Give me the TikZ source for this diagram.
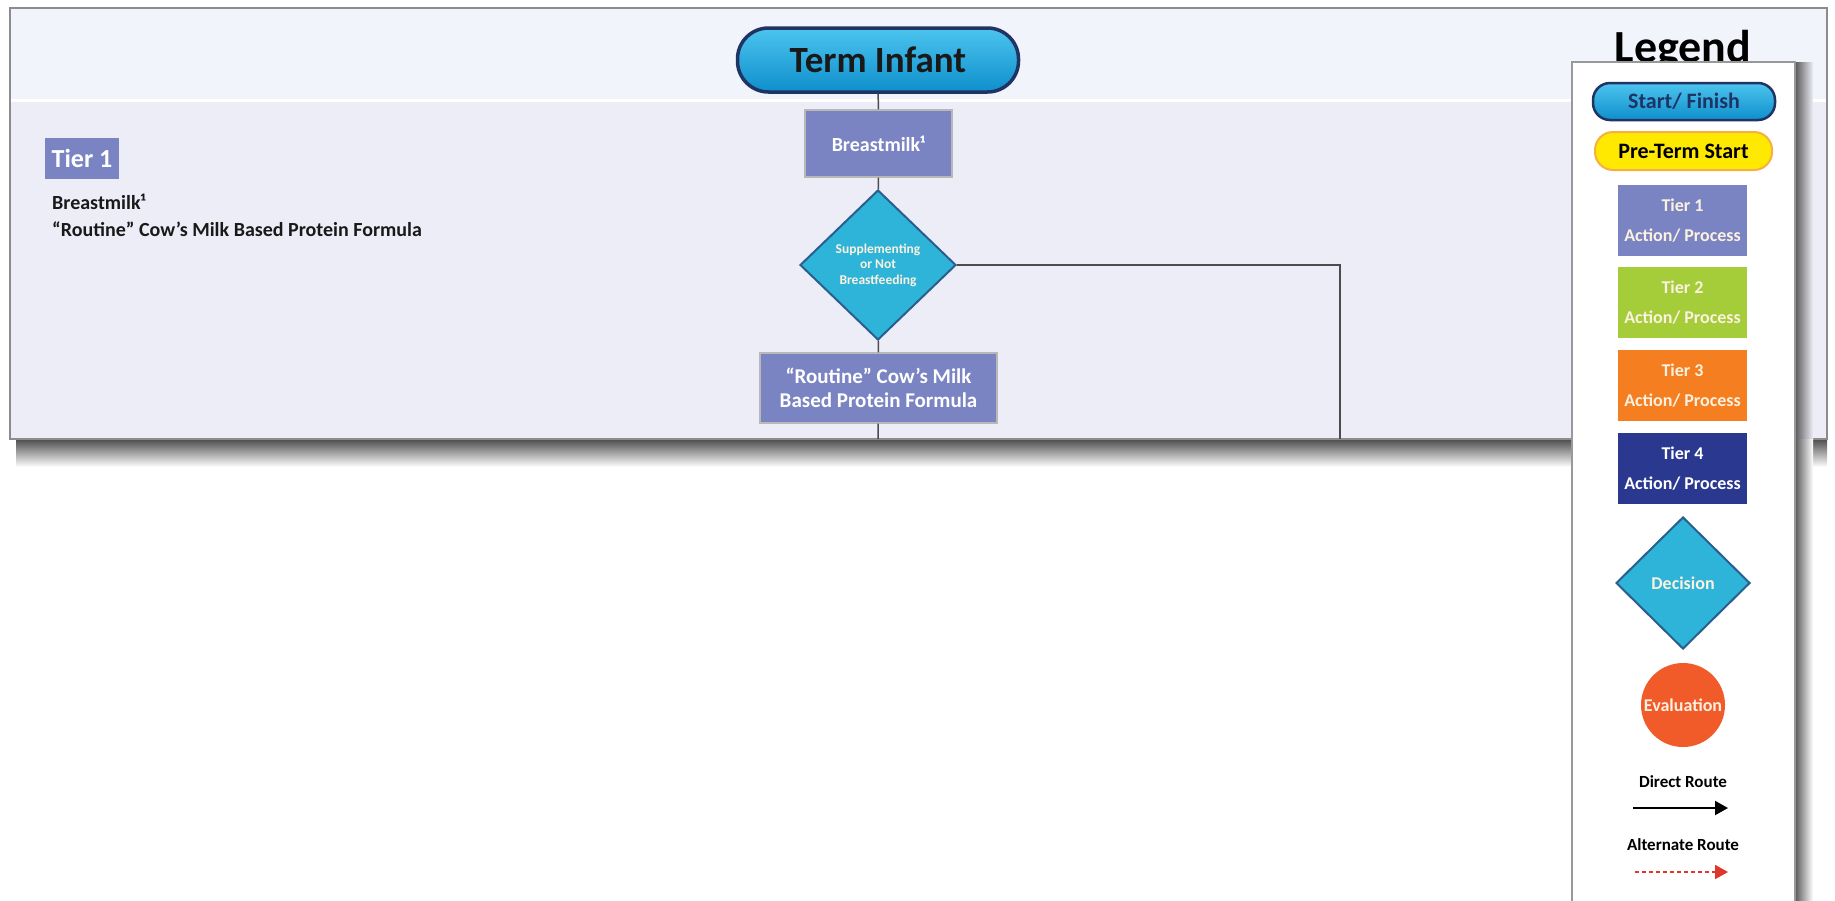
\documentclass[tikz,border=0pt]{standalone}
\usepackage{fontspec}
\setmainfont{Carlito}
\usetikzlibrary{shapes.geometric,arrows.meta}
\definecolor{tierA}{HTML}{7B84C3}
\definecolor{tierB}{HTML}{A5CD39}
\definecolor{tierC}{HTML}{F47E20}
\definecolor{tierD}{HTML}{2B3890}
\definecolor{decfill}{HTML}{2EB4D8}
\definecolor{decdraw}{HTML}{2A5E8E}
\definecolor{evalfill}{HTML}{F15A29}
\definecolor{pillnavy}{HTML}{1F3463}
\definecolor{pilltop}{HTML}{4CC4EE}
\definecolor{pillbot}{HTML}{0E8FCC}
\definecolor{yelfill}{HTML}{FFE900}
\definecolor{yeldraw}{HTML}{F5B041}
\definecolor{panelbody}{HTML}{ECEDF6}
\definecolor{panelhead}{HTML}{F1F4FA}
\definecolor{cream}{HTML}{FCF1E0}
\definecolor{altred}{HTML}{E0352B}
\begin{document}
\begin{tikzpicture}[x=1pt,y=-1pt,
  conn/.style={draw=black!70, line width=1.5pt},
  procbox/.style={rectangle, fill=tierA, draw=black!28, line width=1.2pt, text=white, align=center, inner sep=0pt},
  pill/.style={rectangle, rounded corners=#1, draw=pillnavy, top color=pilltop, bottom color=pillbot, inner sep=0pt, align=center},
  legtier/.style={rectangle, minimum width=129pt, minimum height=71pt, inner sep=0pt, align=center, font=\bfseries\fontsize{18}{30}\selectfont},
  legtxt/.style={font=\bfseries\fontsize{17}{20}\selectfont, text=black, inner sep=0pt},
]
\useasboundingbox (0,0) rectangle (1835,900);
% panel
\fill[panelbody] (10,8) rectangle (1827,439);
\fill[panelhead] (10,8) rectangle (1827,100);
\draw[white, line width=3pt] (10,100) -- (1827,100);
\shade[top color=black!70, bottom color=white] (16,439) rectangle (1827,467);
\draw[black!45, line width=1.5pt] (10,8) rectangle (1827,439);

% main flow
\node[pill=31pt, line width=3.5pt, minimum width=281pt, minimum height=64pt,
      font=\bfseries\fontsize{37}{40}\selectfont, text=black!90] (term) at (878,60) {Term Infant};
\node[procbox, minimum width=147pt, minimum height=67pt, font=\bfseries\fontsize{20}{24}\selectfont] (bm) at (878.5,143.5) {Breastmilk¹};
\node[diamond, fill=decfill, draw=decdraw, line width=2pt, minimum width=156pt, minimum height=150pt, inner sep=0pt,
      align=center, text=cream, font=\bfseries\fontsize{13.5}{15.5}\selectfont] (dec) at (878,265) {Supplementing\\or Not\\Breastfeeding};
\node[procbox, minimum width=237pt, minimum height=70pt, font=\bfseries\fontsize{21}{24}\selectfont] (rt) at (878.5,388) {“Routine” Cow’s Milk\\Based Protein Formula};
\coordinate (e1) at (878,439);
\coordinate (c1) at (1340,265);
\coordinate (e2) at (1340,439);
\draw[conn] (term) -- (bm);
\draw[conn] (bm) -- (dec);
\draw[conn] (dec) -- (rt);
\draw[conn] (rt) -- (e1);
\draw[conn] (dec.east) -- (c1) -- (e2);

% tier 1 list
\node[rectangle, fill=tierA, text=white, minimum width=74pt, minimum height=41pt, inner sep=0pt,
      font=\bfseries\fontsize{26}{28}\selectfont] (tierlab) at (82,158.5) {Tier 1};
\node[anchor=base west, inner sep=0pt, text=black!90, font=\bfseries\fontsize{20}{24}\selectfont] (l1) at (52,209) {Breastmilk¹};
\node[anchor=base west, inner sep=0pt, text=black!90, font=\bfseries\fontsize{20}{24}\selectfont] (l2) at (52,236) {“Routine” Cow’s Milk Based Protein Formula};

% legend
\node[anchor=base, inner sep=0pt, text=black, font=\bfseries\fontsize{46}{50}\selectfont] (legtitle) at (1683,62) {Legend};
\shade[left color=black!65, right color=panelbody] (1795,62) rectangle (1813,439);
\shade[left color=black!65, right color=white] (1795,439) rectangle (1813,905);
\draw[fill=white, draw=black!40, line width=1.5pt] (1572,62) rectangle (1795,905);

\node[pill=17pt, line width=2.5pt, minimum width=182pt, minimum height=37pt,
      font=\bfseries\fontsize{22}{24}\selectfont, text=pillnavy] (lstart) at (1684,101.5) {Start/ Finish};
\node[rectangle, rounded corners=18pt, fill=yelfill, draw=yeldraw, line width=2pt, minimum width=177pt, minimum height=38pt,
      inner sep=0pt, font=\bfseries\fontsize{22}{24}\selectfont, text=black] (lpre) at (1683.5,151) {Pre-Term Start};
\node[legtier, fill=tierA, text=cream] (lt1) at (1682.5,220.5) {Tier 1\\Action/ Process};
\node[legtier, fill=tierB, text=cream] (lt2) at (1682.5,302.5) {Tier 2\\Action/ Process};
\node[legtier, fill=tierC, text=cream] (lt3) at (1682.5,385.5) {Tier 3\\Action/ Process};
\node[legtier, fill=tierD, text=white] (lt4) at (1682.5,468.5) {Tier 4\\Action/ Process};
\node[diamond, fill=decfill, draw=decdraw, line width=2pt, minimum width=134pt, minimum height=132pt, inner sep=0pt,
      text=cream, font=\bfseries\fontsize{18}{20}\selectfont] (ldec) at (1683,583) {Decision};
\node[circle, fill=evalfill, minimum size=84pt, inner sep=0pt, text=cream,
      font=\bfseries\fontsize{18}{20}\selectfont] (leval) at (1683,705) {Evaluation};
\node[legtxt] (ldir) at (1683,782) {Direct Route};
\coordinate (da) at (1633,808);
\coordinate (db) at (1728,808);
\draw[black, line width=2pt, -{Triangle[length=13pt,width=14pt]}] (da) -- (db);
\node[legtxt] (lalt) at (1683,845) {Alternate Route};
\coordinate (aa) at (1635,872);
\coordinate (ab) at (1728,872);
\draw[altred, line width=1.8pt, dash pattern=on 4pt off 3pt, -{Triangle[length=13pt,width=14pt]}] (aa) -- (ab);
\end{tikzpicture}
\end{document}
